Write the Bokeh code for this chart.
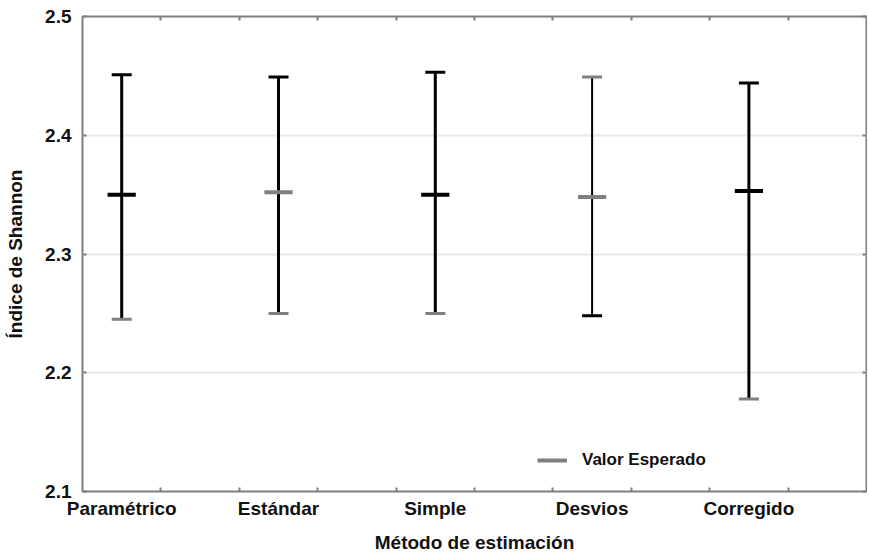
from bokeh.plotting import figure
from bokeh.models import (Range1d, LinearAxis, FixedTicker, Legend, LegendItem,
                          ColumnDataSource)
from bokeh.embed import file_html
from bokeh.resources import INLINE

# ---- data ----
categories = ["Paramétrico", "Estándar", "Simple", "Desvios", "Corregido"]
upper = [2.451, 2.449, 2.453, 2.449, 2.444]
mean = [2.350, 2.352, 2.350, 2.348, 2.353]
lower = [2.245, 2.250, 2.250, 2.248, 2.178]
y_ticks = [2.1, 2.2, 2.3, 2.4, 2.5]

# ---- styles (kept apart from data) ----
BLACK = "#000000"
GRAY = "#7f7f7f"
whisker_w = [3, 3, 3, 2, 3]
upper_col = [BLACK, BLACK, BLACK, GRAY, BLACK]
lower_col = [GRAY, GRAY, GRAY, BLACK, GRAY]
mean_col = [BLACK, GRAY, BLACK, GRAY, BLACK]
MEAN_HALF = 0.09  # half width of the expected-value mark, in category units

x = list(range(1, len(categories) + 1))
src = ColumnDataSource(dict(x=x, upper=upper, mean=mean, lower=lower,
                            m0=[v - MEAN_HALF for v in x],
                            m1=[v + MEAN_HALF for v in x],
                            ww=whisker_w, uc=upper_col, lc=lower_col, mc=mean_col))

FONT = "Liberation Sans"

p = figure(frame_width=784, frame_height=475,
           x_range=Range1d(0.75, len(categories) + 0.75),
           y_range=Range1d(y_ticks[0], y_ticks[-1]),
           output_backend="svg", toolbar_location=None,
           x_axis_location=None, y_axis_location=None,
           min_border_left=82, min_border_right=1, min_border_top=16,
           min_border_bottom=63)
p.background_fill_color = "white"
p.border_fill_color = "white"
p.outline_line_color = GRAY
p.outline_line_width = 2

minor = [0.75 + 0.5 * k for k in range(1, 2 * len(categories))]
xticker = FixedTicker(ticks=x, minor_ticks=minor)
yticker = FixedTicker(ticks=y_ticks, minor_ticks=[])

def style_axis(ax):
    ax.axis_line_color = None
    ax.major_tick_in = 4
    ax.major_tick_out = 0
    ax.minor_tick_in = 4
    ax.minor_tick_out = 0
    ax.major_tick_line_color = GRAY
    ax.minor_tick_line_color = GRAY
    ax.major_tick_line_width = 2
    ax.minor_tick_line_width = 2
    ax.major_label_text_font = FONT
    ax.major_label_text_font_size = "19px"
    ax.major_label_text_font_style = "bold"
    ax.major_label_text_color = "#111111"
    ax.axis_label_text_font = FONT
    ax.axis_label_text_font_size = "19px"
    ax.axis_label_text_font_style = "bold"
    ax.axis_label_text_color = "#111111"

def hide_labels(ax):
    ax.major_label_text_color = None
    ax.major_label_text_font_size = "1px"
    ax.major_label_standoff = 0

xb = LinearAxis(ticker=xticker, axis_label="Método de estimación",
                major_label_overrides={i: c for i, c in zip(x, categories)})
style_axis(xb)
xb.major_tick_line_color = None
xb.major_label_standoff = 6
xb.axis_label_standoff = 10
p.add_layout(xb, "below")

xt = LinearAxis(ticker=xticker)
style_axis(xt)
xt.major_tick_line_color = None
hide_labels(xt)
p.add_layout(xt, "above")

yl = LinearAxis(ticker=yticker, axis_label="Índice de Shannon")
style_axis(yl)
yl.major_label_standoff = 11
yl.axis_label_standoff = 16
p.add_layout(yl, "left")

yr = LinearAxis(ticker=yticker)
style_axis(yr)
hide_labels(yr)
p.add_layout(yr, "right")

p.xgrid.visible = False
p.ygrid.ticker = yticker
p.ygrid.grid_line_color = "#e8e8e8"
p.ygrid.grid_line_width = 2

p.segment(x0="x", y0="lower", x1="x", y1="upper", source=src,
          line_color=BLACK, line_width="ww")
p.scatter(x="x", y="upper", source=src, marker="dash", size=20,
          line_color="uc", line_width=3)
p.scatter(x="x", y="lower", source=src, marker="dash", size=20,
          line_color="lc", line_width=3)
mean_r = p.segment(x0="m0", y0="mean", x1="m1", y1="mean", source=src,
                   line_color="mc", line_width=4)

legend = Legend(items=[LegendItem(label="Valor Esperado", renderers=[mean_r], index=1)],
                location=(455, 21), padding=0, margin=0, spacing=0,
                glyph_width=30, glyph_height=20, label_standoff=15,
                border_line_color=None, background_fill_alpha=0,
                label_text_font=FONT, label_text_font_size="17px",
                label_text_font_style="bold", label_text_color="#111111")
p.add_layout(legend, "center")

open("out.html", "w").write(file_html(p, INLINE))
